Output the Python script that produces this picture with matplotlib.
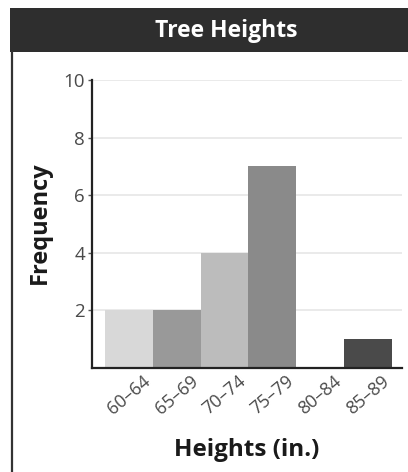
import matplotlib.pyplot as plt
import matplotlib.transforms as mtransforms
from matplotlib.patches import Rectangle
from matplotlib.lines import Line2D

# histogram data
bins = ['60\u201364', '65\u201369', '70\u201374', '75\u201379', '80\u201384', '85\u201389']
counts = [2, 2, 4, 7, 0, 1]
shades = ['#d8d8d8', '#999999', '#bcbcbc', '#8a8a8a', '#ffffff', '#4a4a4a']
yticks = [2, 4, 6, 8, 10]

plt.rcParams['font.family'] = ['Open Sans', 'DejaVu Sans']

fig = plt.figure(figsize=(4.08, 4.72), dpi=100)
W, H = 408.0, 472.0

# dark title bar and left frame line
fig.patches.append(Rectangle((10 / W, 1 - 52 / H), 1, 44 / H, transform=fig.transFigure,
                             facecolor='#2e2e2e', edgecolor='none', zorder=0))
fig.lines.append(Line2D([12 / W, 12 / W], [0, 1 - 52 / H], transform=fig.transFigure,
                        color='#333333', linewidth=1.6))
fig.text(226 / W, 1 - 31 / H, 'Tree Heights', color='white', fontsize=16.5,
         fontweight='bold', ha='center', va='center')

ax = fig.add_axes([92 / W, 1 - 368 / H, 310 / W, 288 / H])
x = list(range(len(bins)))
ax.bar(x, counts, width=1.0, color=shades, edgecolor='none', zorder=2)

ax.set_xlim(-0.77, 5.71)
ax.set_ylim(0, 10)
ax.set_yticks(yticks)
ax.set_yticklabels([str(v) for v in yticks], fontsize=13.5, color='#4a4a4a')
ax.set_xticks(x)
ax.set_xticklabels(bins, fontsize=13, color='#4a4a4a', rotation=40,
                   ha='center', va='top')
shift = mtransforms.ScaledTranslation(-17 / 100, 0, fig.dpi_scale_trans)
for lab in ax.get_xticklabels():
    lab.set_transform(lab.get_transform() + shift)
ax.tick_params(axis='x', length=0, pad=3)
ax.tick_params(axis='y', length=3, width=1, color='#555555', pad=2)

for v in yticks:
    ax.axhline(v, color='#e6e6e6', linewidth=1.2, zorder=1)

ax.spines['top'].set_visible(False)
ax.spines['right'].set_visible(False)
ax.spines['left'].set_color('#222222')
ax.spines['bottom'].set_color('#222222')
ax.spines['left'].set_linewidth(1.6)
ax.spines['bottom'].set_linewidth(1.6)

fig.text(40 / W, 1 - 223 / H, 'Frequency', fontsize=17, fontweight='bold',
         rotation=90, ha='center', va='center', color='#1a1a1a')
fig.text(247 / W, 1 - 450 / H, 'Heights (in.)', fontsize=17.5, fontweight='bold',
         ha='center', va='center', color='#1a1a1a')

fig.savefig('out.png', dpi=100)
